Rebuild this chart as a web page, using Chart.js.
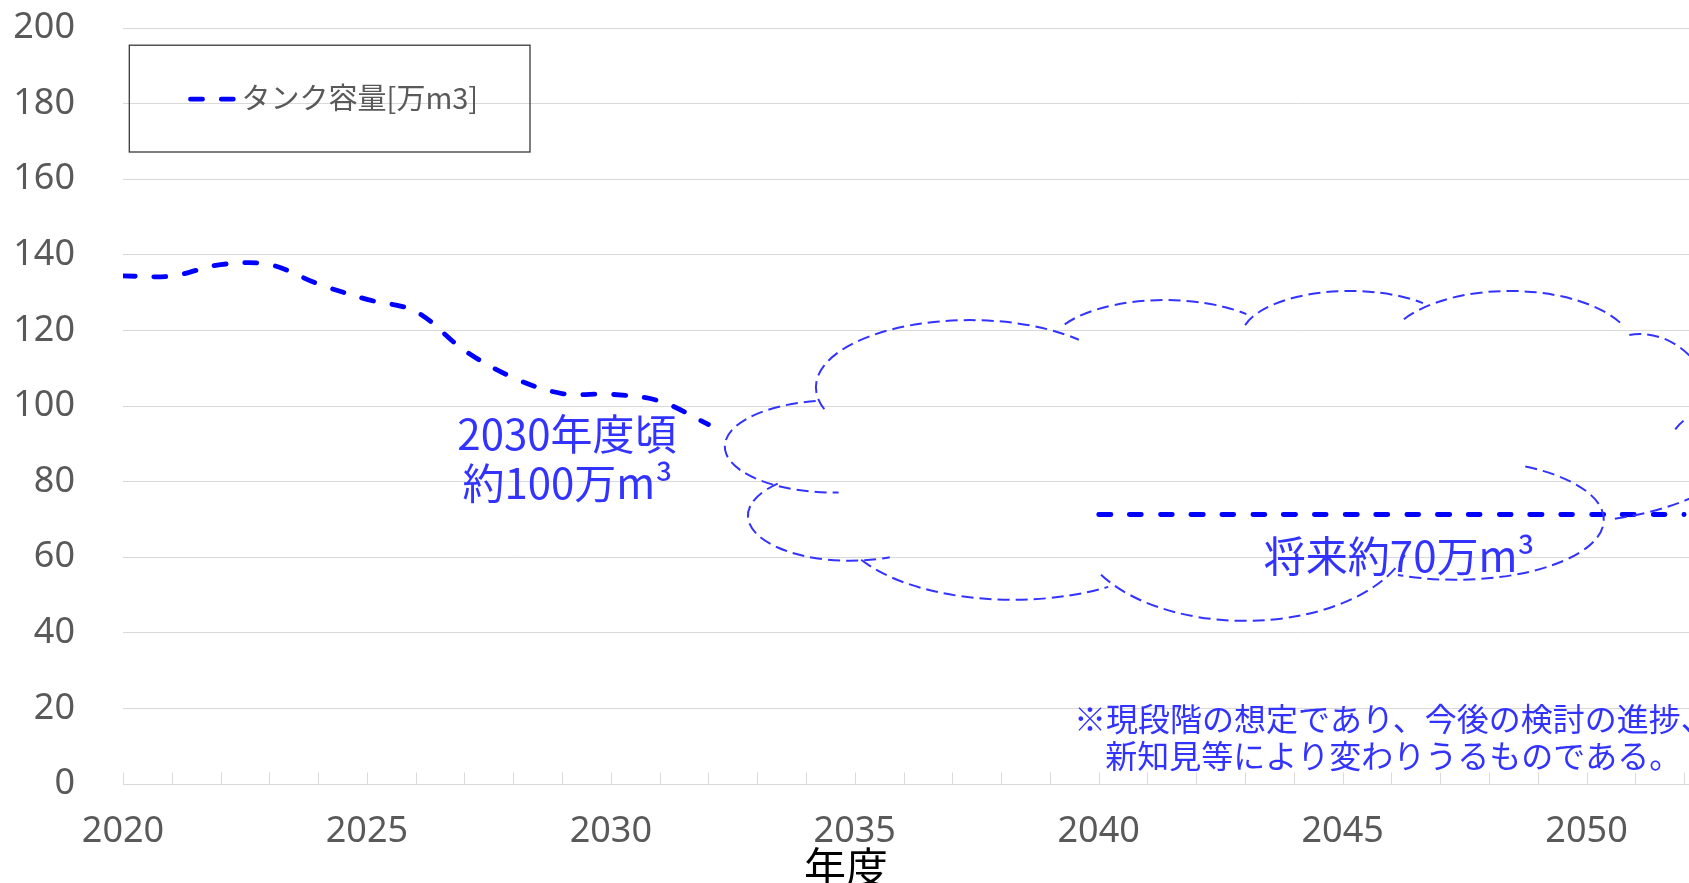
<!DOCTYPE html>
<html lang="ja">
<head>
<meta charset="utf-8">
<title>タンク容量</title>
<script src="https://cdn.jsdelivr.net/npm/chart.js@4.4.1/dist/chart.umd.min.js"></script>
<style>
  html, body { margin: 0; padding: 0; background: #fff; }
  canvas { display: block; }
</style>
</head>
<body>
<canvas id="tank-chart" width="1689" height="883"></canvas>
<script>
const years = [
    2020, 2021, 2022, 2023, 2024, 2025, 2026, 2027, 2028, 2029, 2030,
    2031, 2032, 2033, 2034, 2035, 2036, 2037, 2038, 2039, 2040, 2041,
    2042, 2043, 2044, 2045, 2046, 2047, 2048, 2049, 2050, 2051, 2052,
];
const tankCapacity = [
    134.4, 134.4, 137.4, 137.4, 132.3, 128.2, 125.0, 114.7, 107.5, 103.3, 103.1,
    101.3, 95.1, null, null, null, null, null, null, null, 71.3, 71.3,
    71.3, 71.3, 71.3, 71.3, 71.3, 71.3, 71.3, 71.3, 71.3, 71.3, 71.3,
];
const xTickLabels = [2020, 2025, 2030, 2035, 2040, 2045, 2050];
const yTickLabels = [0, 20, 40, 60, 80, 100, 120, 140, 160, 180, 200];

const seriesLabel = "タンク容量[万m3]";
const noteLines = ["※現段階の想定であり、今後の検討の進捗、", "新知見等により変わりうるものである。"];

const blue = "#3333ff";
const gray = "#595959";
const gridGray = "#d9d9d9";
const clear = "rgba(0,0,0,0)";
const cjk = "'Noto Sans CJK JP', 'Noto Sans', sans-serif";

// cloud callout: each lobe is an elliptical arc, centre and radii in axis units
const cloudLobes = [
    {year: 2034.59, value: 89.3, rx: 2.255, ry: 12.2, from: 260, to: 88, ccw: true},
    {year: 2034.90, value: 71.0, rx: 2.091, ry: 11.94, from: 225, to: 67, ccw: true},
    {year: 2038.24, value: 69.95, rx: 3.588, ry: 21.22, from: 150, to: 57, ccw: true},
    {year: 2043.00, value: 68.36, rx: 3.444, ry: 25.2, from: 149, to: 18, ccw: true},
    {year: 2047.32, value: 69.95, rx: 3.034, ry: 15.92, from: -62, to: 113, ccw: false},
    {year: 2049.45, value: 95.68, rx: 4.1, ry: 26.53, from: 74, to: -20, ccw: true},
    {year: 2052.49, value: 87.72, rx: 0.82, ry: 10.61, from: 215, to: 240, ccw: false},
    {year: 2051.09, value: 96.47, rx: 1.538, ry: 22.55, from: 262, to: 340, ccw: false},
    {year: 2048.43, value: 114.51, rx: 2.563, ry: 15.92, from: 212, to: 334.5, ccw: false},
    {year: 2045.15, value: 117.96, rx: 2.235, ry: 12.47, from: 196, to: 312, ccw: false},
    {year: 2041.36, value: 114.77, rx: 2.399, ry: 13.26, from: 211, to: 314, ccw: false},
    {year: 2037.36, value: 104.96, rx: 3.157, ry: 17.77, from: 161, to: 315, ccw: false},
];

const notes = [
    {text: "2030年度頃", year: 2029.10, value: 92.7, size: 42, color: blue},
    {text: "約100万m³", year: 2029.11, value: 79.7, size: 42, color: blue},
    {text: "将来約70万m³", year: 2046.16, value: 60.3, size: 42, color: blue},
    {text: noteLines[0], year: 2046.04, value: 17.2, size: 32, color: blue},
    {text: noteLines[1], year: 2046.04, value: 7.56, size: 32, color: blue},
    {text: "年度", year: 2034.82, value: -21.9, size: 42, color: "#000"},
];

const overlay = {
    id: "overlay",
    afterDatasetsDraw(chart) {
        const {ctx, chartArea, scales: {x, y}} = chart;
        ctx.save();

        // small tick marks standing on the axis
        ctx.strokeStyle = gridGray;
        ctx.lineWidth = 1;
        ctx.beginPath();
        x.ticks.forEach((t) => {
            const px = Math.round(x.getPixelForValue(t.value)) + 0.5;
            ctx.moveTo(px, chartArea.bottom);
            ctx.lineTo(px, chartArea.bottom - 11.5);
        });
        ctx.stroke();

        // cloud
        ctx.strokeStyle = blue;
        ctx.lineWidth = 2;
        ctx.setLineDash([12, 6]);
        cloudLobes.forEach((l) => {
            const cx = x.getPixelForValue(l.year);
            const cy = y.getPixelForValue(l.value);
            const rx = x.getPixelForValue(l.year + l.rx) - cx;
            const ry = cy - y.getPixelForValue(l.value + l.ry);
            ctx.beginPath();
            ctx.ellipse(cx, cy, rx, ry, 0, l.from * Math.PI / 180, l.to * Math.PI / 180, l.ccw);
            ctx.stroke();
        });
        ctx.setLineDash([]);

        // texts
        ctx.textAlign = "center";
        ctx.textBaseline = "middle";
        notes.forEach((n) => {
            ctx.fillStyle = n.color;
            ctx.font = n.size + "px " + cjk;
            ctx.fillText(n.text, x.getPixelForValue(n.year), y.getPixelForValue(n.value));
        });

        // legend, drawn with the dataset's own line style
        const ds = chart.data.datasets[0];
        const bx = chartArea.left + 6.3;
        const by = chartArea.top + 17.2;
        ctx.strokeStyle = "#3a3a3a";
        ctx.lineWidth = 1.3;
        ctx.strokeRect(bx, by, 400.7, 106.8);

        const ly = by + 54;
        ctx.strokeStyle = ds.borderColor;
        ctx.lineWidth = ds.borderWidth;
        ctx.lineCap = ds.borderCapStyle;
        ctx.setLineDash(ds.borderDash);
        ctx.beginPath();
        ctx.moveTo(bx + 61.2, ly);
        ctx.lineTo(bx + 106.2, ly);
        ctx.stroke();
        ctx.setLineDash([]);

        ctx.textAlign = "left";
        ctx.fillStyle = gray;
        ctx.font = "29px " + cjk;
        ctx.fillText(ds.label, bx + 112.3, ly - 1);
        ctx.restore();
    },
};

let tankChart = new Chart(document.getElementById("tank-chart").getContext("2d"), {
    type: "line",
    data: {
        datasets: [{
            label: seriesLabel,
            data: years.map((yr, i) => ({x: yr, y: tankCapacity[i]})),
            borderColor: "#0000ff",
            backgroundColor: "#0000ff",
            borderWidth: 4.8,
            borderDash: [12, 18.8],
            borderCapStyle: "round",
            pointRadius: 0,
            pointHoverRadius: 0,
            tension: 0.35,
            spanGaps: false,
            fill: false,
        }],
    },
    options: {
        responsive: false,
        devicePixelRatio: 1,
        animation: false,
        events: [],
        layout: {
            padding: {top: 28, left: 0, right: 0, bottom: 0},
        },
        plugins: {
            legend: {display: false},
            tooltip: {enabled: false},
        },
        scales: {
            x: {
                type: "linear",
                min: years[0],
                max: 2052.1,
                afterFit(scale) { scale.height = 99; },
                afterBuildTicks(scale) { scale.ticks = years.map((v) => ({value: v})); },
                grid: {display: true, drawOnChartArea: false, drawTicks: true, tickLength: 26, tickColor: clear, color: clear},
                border: {display: true, color: gridGray, width: 1},
                ticks: {
                    autoSkip: false,
                    maxRotation: 0,
                    minRotation: 0,
                    padding: 0,
                    color: gray,
                    font: {family: "'Noto Sans'", size: 36},
                    callback: (v) => xTickLabels.includes(v) ? String(v) : "",
                },
            },
            y: {
                min: 0,
                max: 200,
                afterFit(scale) { scale.width = 123; },
                afterBuildTicks(scale) { scale.ticks = yTickLabels.map((v) => ({value: v})); },
                grid: {color: gridGray, lineWidth: 1, drawTicks: true, tickLength: 48, tickColor: clear},
                border: {display: false},
                ticks: {
                    padding: 0,
                    color: gray,
                    font: {family: "'Noto Sans'", size: 36},
                },
            },
        },
    },
    plugins: [overlay],
});
</script>
</body>
</html>
